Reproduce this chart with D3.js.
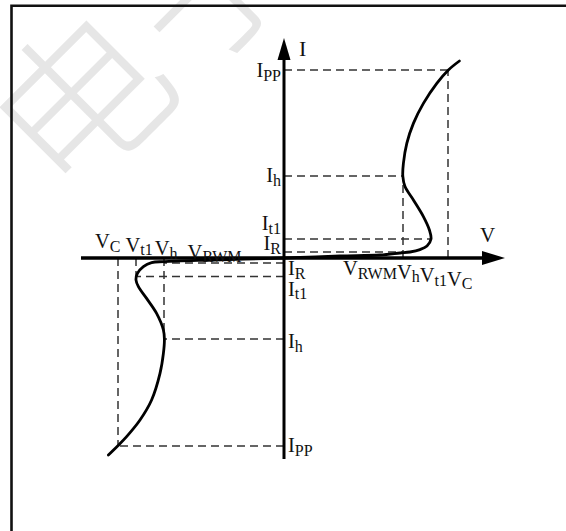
<!DOCTYPE html>
<html>
<head>
<meta charset="utf-8">
<script src="https://cdn.jsdelivr.net/npm/d3@7"></script>
<style>
  html, body { margin: 0; padding: 0; background: #fff; }
  svg { display: block; }
  .lbl { font-family: "Liberation Serif", "Times New Roman", serif; fill: #111; }
</style>
</head>
<body>
<div id="chart"></div>
<script>
// characteristic points, in arbitrary units (V right, I up)
const posVoltages = [5.95, 7.35, 8.2];      // V_h, V_t1, V_C
const negVoltages = [-6.0, -7.4, -8.3];     // V_h, V_t1, V_C
const voltLabelStarts = [2.95, -9.45];       // where each row of V labels begins
const posCurrents = [0.3, 0.95, 4.1, 9.4];   // I_R, I_t1, I_h, I_PP
const negCurrents = [-0.25, -0.93, -4.05, -9.4];
const currentLabels = [["I", "R"], ["I", "t1"], ["I", "h"], ["I", "PP"]];
const posVoltLabels = [["V", "RWM"], ["V", "h"], ["V", "t1"], ["V", "C"]];
const negVoltLabels = [["V", "C"], ["V", "t1"], ["V", "h"], ["V", "RWM"]];

// I-V curve
const posCurve = [
  [0, 0], [2.8, 0.1], [4.8, 0.15], [5.8, 0.25], [6.3, 0.3], [6.8, 0.42],
  [7.15, 0.6], [7.35, 0.95], [7.27, 1.4], [6.97, 2.07], [6.47, 2.9],
  [6.05, 3.57], [5.94, 4.1], [5.97, 4.73], [6.14, 5.73], [6.47, 6.73],
  [6.97, 7.73], [7.64, 8.73], [8.22, 9.4], [8.77, 9.85]
];
const negCurve = [
  [0, 0], [-3.5, -0.1], [-6.0, -0.18], [-6.62, -0.23], [-7.03, -0.43],
  [-7.33, -0.77], [-7.4, -1.1], [-7.28, -1.43], [-6.87, -2.02],
  [-6.37, -2.77], [-6.03, -3.6], [-5.98, -4.05], [-6.03, -4.77],
  [-6.2, -5.77], [-6.62, -7.1], [-7.2, -8.1], [-7.87, -8.93],
  [-8.32, -9.4], [-8.78, -9.85]
];

const width = 566, height = 531;
const fs = 20.5, subFs = 16;

const x = d3.scaleLinear().domain([-10, 10]).range([84, 484]);
const y = d3.scaleLinear().domain([-10, 10]).range([458, 58]);

const svg = d3.select("#chart").append("svg")
  .attr("width", width)
  .attr("height", height);

// faint watermark
const wm = svg.append("g")
  .attr("transform", "translate(84,104) rotate(-45)")
  .attr("fill", "#e6e6e6")
  .style("font-family", "'Noto Sans CJK SC', sans-serif")
  .style("font-size", "170px")
  .style("font-weight", 300);
wm.append("text").attr("text-anchor", "middle").attr("dy", "0.35em").text("电");
wm.append("text").attr("text-anchor", "middle").attr("x", 180).attr("dy", "0.35em").text("子");

// frame
svg.append("path")
  .attr("d", "M11.5,531 V5.8 H566")
  .attr("fill", "none")
  .attr("stroke", "#111")
  .attr("stroke-width", 2.6);

// dashed guides
const dash = svg.append("g")
  .attr("stroke", "#333")
  .attr("stroke-width", 1.5)
  .attr("stroke-dasharray", "8,5")
  .attr("fill", "none");

function hDash(v, i) {
  dash.append("line").attr("x1", x(0)).attr("x2", x(v)).attr("y1", y(i)).attr("y2", y(i));
}
function vDash(v, i) {
  dash.append("line").attr("x1", x(v)).attr("x2", x(v)).attr("y1", y(0)).attr("y2", y(i));
}

// positive side
hDash(posVoltages[0], posCurrents[0]);
hDash(posVoltages[1], posCurrents[1]);
hDash(posVoltages[0], posCurrents[2]);
hDash(posVoltages[2], posCurrents[3]);
vDash(posVoltages[0], posCurrents[2]);
vDash(posVoltages[2], posCurrents[3]);
// negative side
hDash(negVoltages[0], negCurrents[0]);
hDash(negVoltages[1], negCurrents[1]);
hDash(negVoltages[0], negCurrents[2]);
hDash(negVoltages[2], negCurrents[3]);
vDash(negVoltages[1], negCurrents[1]);
vDash(negVoltages[0], negCurrents[2]);
vDash(negVoltages[2], negCurrents[3]);

// axes with arrow heads
const ax = svg.append("g").attr("stroke", "#000").attr("fill", "#000");
ax.append("line")
  .attr("x1", x(-10.15)).attr("x2", x(10.0))
  .attr("y1", y(0)).attr("y2", y(0))
  .attr("stroke-width", 3.5);
ax.append("line")
  .attr("x1", x(0)).attr("x2", x(0))
  .attr("y1", y(-10.05)).attr("y2", y(10.0))
  .attr("stroke-width", 3);
ax.append("path")
  .attr("stroke", "none")
  .attr("d", `M${x(11.05)},${y(0)} L${x(9.9)},${y(0) - 7} L${x(9.9)},${y(0) + 7} Z`);
ax.append("path")
  .attr("stroke", "none")
  .attr("d", `M${x(0)},${y(11)} L${x(0) - 6.5},${y(9.9)} L${x(0) + 6.5},${y(9.9)} Z`);

// curve
const line = d3.line()
  .x(d => x(d[0]))
  .y(d => y(d[1]))
  .curve(d3.curveCatmullRom.alpha(0.5));

svg.append("g").selectAll("path")
  .data([posCurve, negCurve])
  .join("path")
  .attr("d", line)
  .attr("fill", "none")
  .attr("stroke", "#000")
  .attr("stroke-width", 2.8)
  .attr("stroke-linecap", "round");

// main letter plus subscript, appended to a text element
function subLabel(t, parts, dx) {
  t.append("tspan").attr("dx", dx || 0).text(parts[0]);
  t.append("tspan").attr("font-size", subFs).attr("dy", 3.5).text(parts[1]);
  t.append("tspan").attr("dy", -3.5).text("");
}

// current labels
const posDy = [-2, -9, 6, 7];
const negDy = [12, 19, 9, 6];
currentLabels.forEach((p, k) => {
  const t1 = svg.append("text").attr("class", "lbl")
    .attr("x", x(0) - 3).attr("y", y(posCurrents[k]) + posDy[k])
    .attr("text-anchor", "end").attr("font-size", fs);
  subLabel(t1, p);
  const t2 = svg.append("text").attr("class", "lbl")
    .attr("x", x(0) + 4).attr("y", y(negCurrents[k]) + negDy[k])
    .attr("font-size", fs);
  subLabel(t2, p);
});

// voltage labels
const vp = svg.append("text").attr("class", "lbl")
  .attr("x", x(voltLabelStarts[0])).attr("y", y(0) + 17)
  .attr("font-size", fs);
posVoltLabels.forEach(p => subLabel(vp, p));

const vn = svg.append("text").attr("class", "lbl")
  .attr("x", x(voltLabelStarts[1])).attr("y", y(0) - 10)
  .attr("font-size", fs);
const gaps = [0, 5, 2, 10];
negVoltLabels.forEach((p, k) => subLabel(vn, p, gaps[k]));

// axis names
svg.append("text").attr("class", "lbl")
  .attr("x", x(0) + 15).attr("y", y(10.1))
  .attr("font-size", 22).text("I");
svg.append("text").attr("class", "lbl")
  .attr("x", x(9.8)).attr("y", y(0) - 16)
  .attr("font-size", 21).text("V");
</script>
</body>
</html>
